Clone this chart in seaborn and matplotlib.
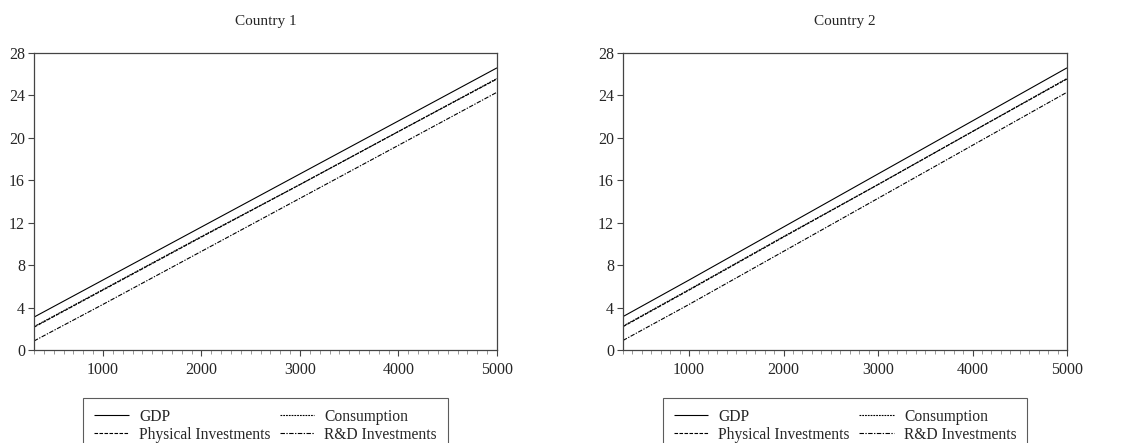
import numpy as np
import pandas as pd
import matplotlib
matplotlib.use("Agg")
import matplotlib.pyplot as plt
import seaborn as sns
from matplotlib.ticker import MultipleLocator

# ---- data ----
periods = [300, 1000, 2000, 3000, 4000, 5000]
series_names = ["GDP", "Consumption", "Physical Investments", "R&D Investments"]

c1_gdp = [3.1, 6.6, 11.6, 16.6, 21.6, 26.6]
c1_cons = [2.2, 5.7, 10.7, 15.6, 20.6, 25.6]
c1_phys = [2.15, 5.65, 10.65, 15.6, 20.6, 25.55]
c1_rd = [0.85, 4.3, 9.3, 14.3, 19.3, 24.3]

c2_gdp = [3.15, 6.6, 11.6, 16.6, 21.6, 26.6]
c2_cons = [2.25, 5.7, 10.7, 15.6, 20.6, 25.6]
c2_phys = [2.2, 5.65, 10.65, 15.6, 20.6, 25.55]
c2_rd = [0.9, 4.3, 9.3, 14.3, 19.3, 24.3]

titles = ["Country 1", "Country 2"]
y_ticks = [0, 4, 8, 12, 16, 20, 24, 28]
x_ticks = [1000, 2000, 3000, 4000, 5000]

styles = {
    "GDP": (0, ()),
    "Consumption": (0, (1.6, 0.9)),
    "Physical Investments": (0, (3.2, 1.3)),
    "R&D Investments": (0, (4, 1.3, 1.2, 1.3)),
}

sns.set_theme(style="white")
plt.rcParams["font.family"] = ["Liberation Serif", "DejaVu Serif"]
plt.rcParams["axes.edgecolor"] = "#444444"

fig = plt.figure(figsize=(11.43, 4.43), dpi=100)
ax1 = fig.add_axes([34 / 1143, 1 - 350 / 443, 463 / 1143, 297 / 443])
ax2 = fig.add_axes([623 / 1143, 1 - 350 / 443, 444 / 1143, 297 / 443])

datasets = [
    [c1_gdp, c1_cons, c1_phys, c1_rd],
    [c2_gdp, c2_cons, c2_phys, c2_rd],
]

for ax, data, title in zip([ax1, ax2], datasets, titles):
    df = pd.DataFrame({"period": periods * 4,
                       "value": sum(data, []),
                       "series": sum([[n] * len(periods) for n in series_names], [])})
    for name in series_names:
        sub = df[df["series"] == name]
        sns.lineplot(data=sub, x="period", y="value", ax=ax, color="black",
                     linewidth=0.8, label=name, legend=False)
        ax.lines[-1].set_linestyle(styles[name])
    ax.set_xlim(300, 5000)
    ax.set_ylim(0, 28)
    ax.set_xticks(x_ticks)
    ax.set_yticks(y_ticks)
    ax.xaxis.set_minor_locator(MultipleLocator(100))
    ax.tick_params(axis="both", which="major", direction="out", length=4.5,
                   width=0.8, color="#444444", labelsize=11.5, pad=2,
                   bottom=True, left=True)
    ax.tick_params(axis="x", which="major", pad=4)
    ax.tick_params(axis="x", which="minor", direction="out", length=3,
                   width=0.6, color="#888888", bottom=True)
    ax.set_xlabel("")
    ax.set_ylabel("")
    ax.set_title(title, fontsize=11, pad=20)
    for sp in ax.spines.values():
        sp.set_linewidth(0.9)
        sp.set_color("#444444")

    handles, labels = ax.get_legend_handles_labels()
    order = [0, 2, 1, 3]
    pos = ax.get_position()
    cx = pos.x0 + pos.width / 2
    leg = fig.legend([handles[i] for i in order], [labels[i] for i in order],
                     ncol=2, loc="upper center", bbox_to_anchor=(cx, 1 - 398 / 443),
                     frameon=True, fancybox=False, fontsize=11.2,
                     handlelength=2.23, handletextpad=0.65, columnspacing=0.6,
                     borderpad=0.7, labelspacing=0.12, borderaxespad=0)
    leg.get_frame().set_edgecolor("#333333")
    leg.get_frame().set_linewidth(0.8)

fig.savefig("out.png", dpi=100)
